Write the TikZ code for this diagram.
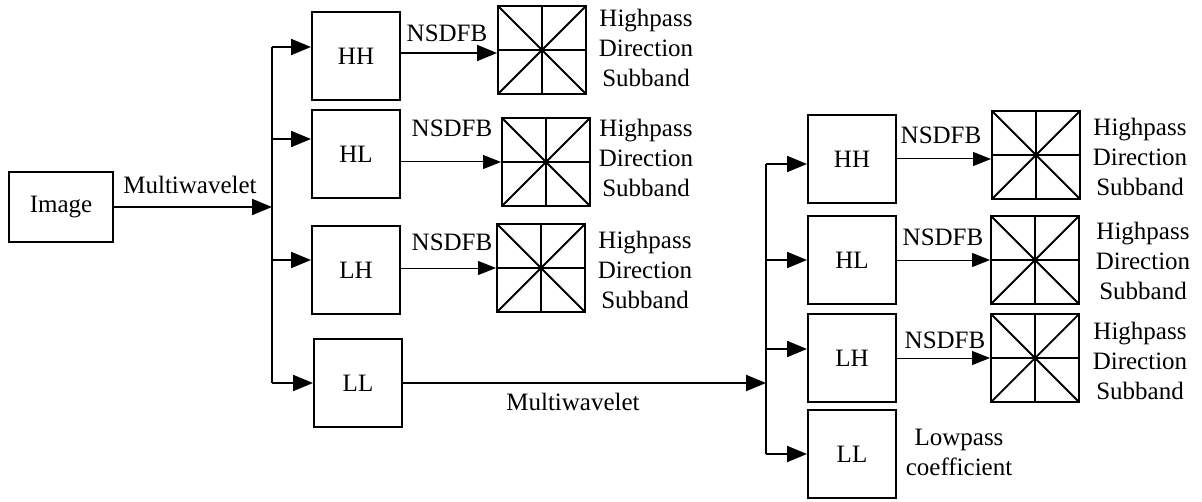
\documentclass[tikz,border=0pt]{standalone}
\usepackage{fontspec}
\setmainfont{Liberation Serif}
\usetikzlibrary{arrows.meta}

\begin{document}
\begin{tikzpicture}[
    x=0.5pt, y=-0.5pt,
    every node/.style={font=\fontsize{12.5}{15}\selectfont},
    box/.style={draw, line width=1pt, minimum width=44pt, minimum height=44pt, inner sep=0pt},
    subband/.style={
        draw, line width=1pt, minimum size=44pt, inner sep=0pt,
        path picture={
            \draw[line width=0.9pt]
                (path picture bounding box.north west) -- (path picture bounding box.south east)
                (path picture bounding box.south west) -- (path picture bounding box.north east)
                (path picture bounding box.north) -- (path picture bounding box.south)
                (path picture bounding box.west) -- (path picture bounding box.east);
        }
    },
    txt/.style={align=center, inner sep=0pt},
    bus/.style={line width=1pt},
    thick arrow/.style={line width=1pt, -{Triangle[length=10pt,width=8pt]}},
    thin arrow/.style={line width=0.5pt, -{Triangle[length=9pt,width=7pt]}}
    ]
    \useasboundingbox (0,0) rectangle (1202,502);

    % first level
    \node[box, minimum width=52pt, minimum height=34.5pt] (img) at (61,207) {Image};
    \node[box] (hh) at (356,56) {HH};
    \node[box] (hl) at (356,154) {HL};
    \node[box] (lh) at (356,270) {LH};
    \node[box] (ll) at (358,383) {LL};

    \coordinate (split) at (272,207);
    \coordinate (hh in) at ([yshift=4.5pt]hh.west);
    \coordinate (hl in) at ([yshift=7.5pt]hl.west);
    \coordinate (lh in) at ([yshift=5pt]lh.west);
    \coordinate (hh out) at ([yshift=1.5pt]hh.east);
    \coordinate (hl out) at ([yshift=-4pt]hl.east);
    \coordinate (lh out) at ([yshift=1pt]lh.east);

    \draw[thick arrow] (img.east) -- (img.east -| split);
    \node (mw1) at (190,185) {Multiwavelet};
    \draw[bus] (split |- hh in) -- (split |- ll.west);
    \draw[thick arrow] (split |- hh in) -- (hh in);
    \draw[thick arrow] (split |- hl in) -- (hl in);
    \draw[thick arrow] (split |- lh in) -- (lh in);
    \draw[thick arrow] (split |- ll.west) -- (ll.west);

    \node[subband] (sb1) at (542,50) {};
    \node[subband] (sb2) at (546,162) {};
    \node[subband] (sb3) at (541,268) {};
    \draw[thick arrow] (hh out) -- (hh out -| sb1.west);
    \draw[thin arrow] (hl out) -- (hl out -| sb2.west);
    \draw[thin arrow] (lh out) -- (lh out -| sb3.west);
    \node (nsdfb1) at (447,33) {NSDFB};
    \node (nsdfb2) at (452,128) {NSDFB};
    \node (nsdfb3) at (452,242) {NSDFB};
    \node[txt] (hp1) at (646,48) {Highpass\\Direction\\Subband};
    \node[txt] (hp2) at (646,158) {Highpass\\Direction\\Subband};
    \node[txt] (hp3) at (645,270) {Highpass\\Direction\\Subband};

    % second level
    \node[box] (hh2) at (852,159) {HH};
    \node[box] (hl2) at (852,260) {HL};
    \node[box] (lh2) at (852,358) {LH};
    \node[box] (ll2) at (852,454) {LL};

    \coordinate (split2) at (766,383);
    \coordinate (hh2 in) at ([yshift=-2.5pt]hh2.west);
    \coordinate (lh2 in) at ([yshift=4.5pt]lh2.west);

    \draw[thick arrow] (ll.east) -- (ll.east -| split2);
    \node (mw2) at (573,402) {Multiwavelet};
    \draw[bus] (split2 |- hh2 in) -- (split2 |- ll2.west);
    \draw[thick arrow] (split2 |- hh2 in) -- (hh2 in);
    \draw[thick arrow] (split2 |- hl2.west) -- (hl2.west);
    \draw[thick arrow] (split2 |- lh2 in) -- (lh2 in);
    \draw[thick arrow] (split2 |- ll2.west) -- (ll2.west);

    \node[subband] (sb4) at (1036,155) {};
    \node[subband] (sb5) at (1035,260) {};
    \node[subband] (sb6) at (1035,358) {};
    \draw[thin arrow] (hh2.east) -- (hh2.east -| sb4.west);
    \draw[thin arrow] (hl2.east) -- (hl2.east -| sb5.west);
    \draw[thin arrow] (lh2.east) -- (lh2.east -| sb6.west);
    \node (nsdfb4) at (941,135) {NSDFB};
    \node (nsdfb5) at (943,237) {NSDFB};
    \node (nsdfb6) at (945,340) {NSDFB};
    \node[txt] (hp4) at (1140,157) {Highpass\\Direction\\Subband};
    \node[txt] (hp5) at (1143,261) {Highpass\\Direction\\Subband};
    \node[txt] (hp6) at (1140,361) {Highpass\\Direction\\Subband};
    \node[txt] (lp) at (959,452) {Lowpass\\coefficient};

\end{tikzpicture}
\end{document}
